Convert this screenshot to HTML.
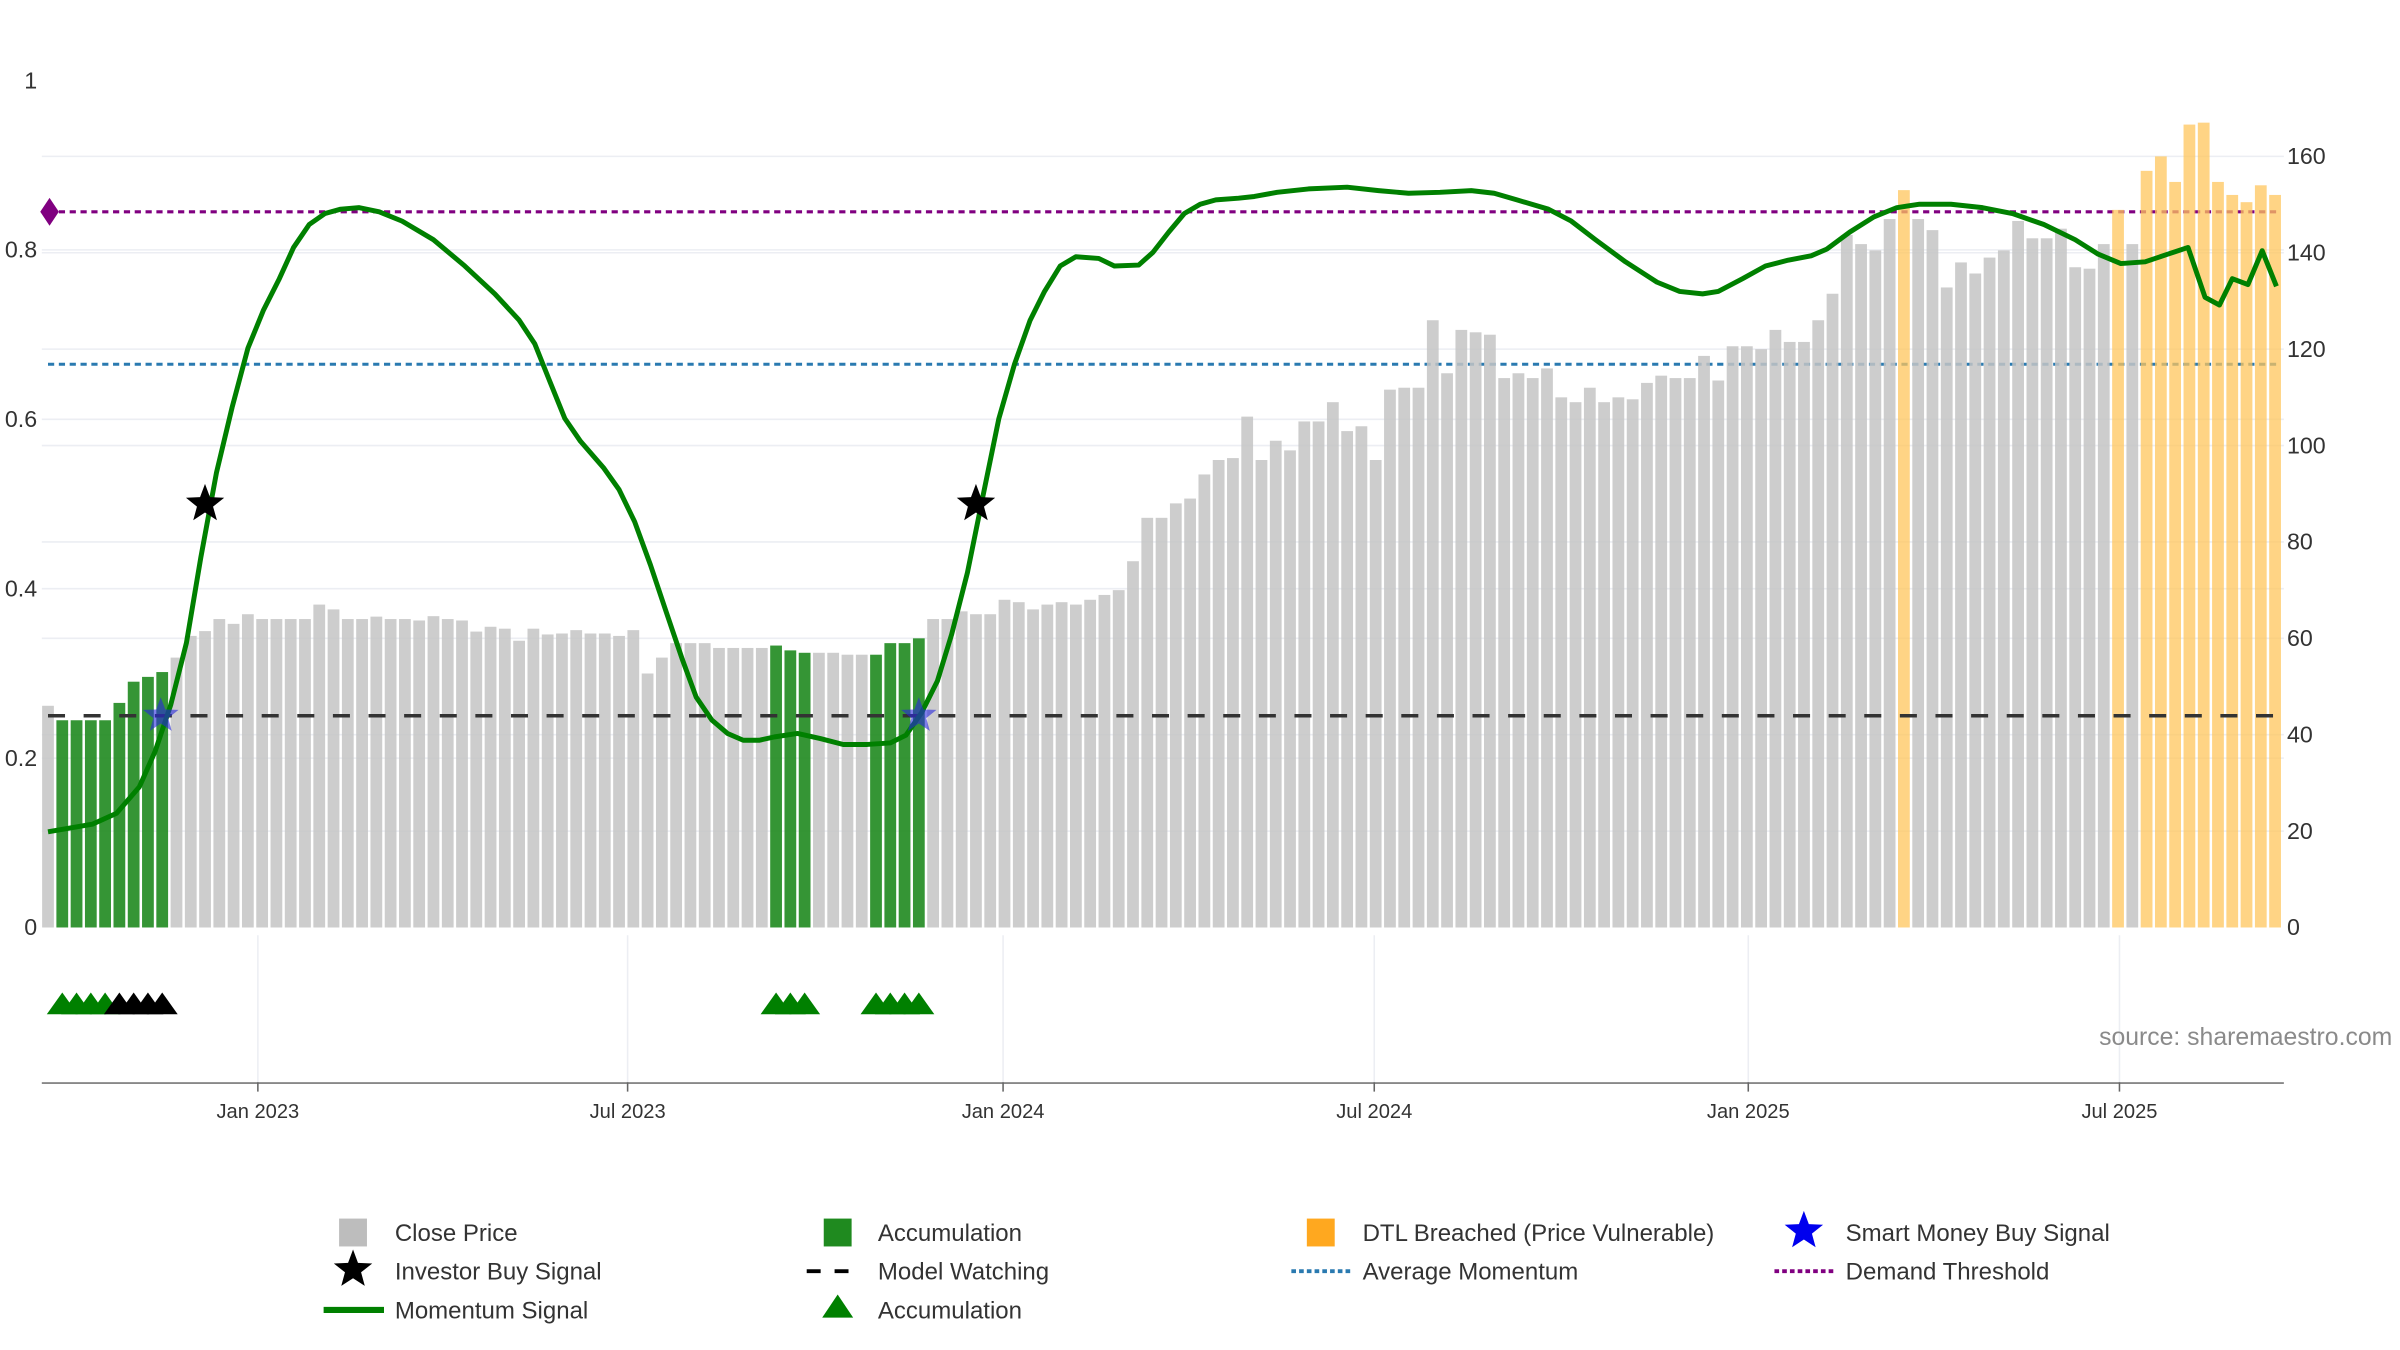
<!DOCTYPE html>
<html><head><meta charset="utf-8"><style>
html,body{margin:0;padding:0;background:#fff;}
svg{display:block;font-family:"Liberation Sans","DejaVu Sans",sans-serif;}
</style></head><body>
<svg id="chart" width="2400" height="1350" viewBox="0 0 1550 871.875" preserveAspectRatio="none" xmlns="http://www.w3.org/2000/svg">
<g id="grid"></g>
<g id="refs"></g>
<g id="bars"></g>
<g id="refs2"></g>
<g id="lines"></g>
<g id="marks"></g>
<g id="axes"></g>
<text x="1545" y="675" text-anchor="end" font-size="16" fill="#8a8a8a">source: sharemaestro.com</text>
<g id="legend"></g>
</svg>
<script>
const prices=[46,43,43,43,43,46.6,51,52,53,56,60.5,61.5,64,63,65,64,64,64,64,67,66,64,64,64.5,64,64,63.7,64.6,64,63.7,61.4,62.4,62,59.5,62,60.8,61,61.7,61,61,60.5,61.7,52.7,56,59,59,59,58,58,58,58,58.5,57.5,57,57,57,56.6,56.6,56.6,59,59,60,64,64,65.6,65,65,68,67.5,66,67,67.5,67,68,69,70,76,85,85,88,89,94,97,97.4,106,97,101,99,105,105,109,103,104,97,111.6,112,112,126,115,124,123.5,123,114,115,114,116,110,109,112,109,110,109.6,113,114.5,114,114,118.6,113.5,120.6,120.6,120,124,121.5,121.5,126,131.5,143.7,141.8,140.5,147,153,147,144.7,132.8,138,135.7,139,140.5,146.6,143,143,145,137,136.7,141.8,148.9,141.8,157,160,154.7,166.6,167,154.7,152,150.5,154,152];
const accumIdx=[1,2,3,4,5,6,7,8,51,52,53,58,59,60,61];
const dtlIdx=[130,145,147,148,149,150,151,152,153,154,155,156];
const momWeek=[0,3.1,4.8,6.4,7.5,8.6,9.7,10.7,11.8,12.9,14,15.1,16.2,17.2,18.3,19.4,20.5,21.8,23.2,24.8,27,29.2,31.3,33,34.1,35.1,36.2,37.3,38.9,40,41.1,42.2,43.3,44.4,45.4,46.5,47.6,48.7,49.8,50.9,52.5,54.1,55.7,57.4,59,60.1,61.2,62.3,63.3,64.4,65.5,66.6,67.7,68.8,69.8,70.9,72,73.6,74.7,76.4,77.4,78.5,79.6,80.7,81.8,83.4,84.5,86.1,88.3,91,93.2,95.3,97.5,99.7,101.3,102.9,105.1,106.7,108.4,110.5,112.7,114.3,115.9,117,118.7,120.3,121.9,123.5,124.6,126.2,127.9,129.5,131.1,133.3,135.5,137.6,139.8,142,143.6,145.2,146.9,148.5,149.9,151.1,152.1,153,154.1,155.1,156.1];
const momVal=[.113,.122,.135,.166,.208,.263,.336,.437,.537,.614,.684,.729,.766,.803,.830,.843,.848,.850,.845,.834,.812,.781,.748,.717,.689,.647,.601,.574,.543,.517,.479,.428,.373,.318,.272,.245,.229,.221,.221,.225,.229,.223,.216,.216,.218,.227,.254,.291,.346,.419,.510,.601,.665,.717,.751,.781,.792,.790,.781,.782,.797,.821,.843,.854,.859,.861,.863,.868,.872,.874,.870,.867,.868,.870,.867,.859,.848,.834,.812,.786,.762,.751,.748,.751,.766,.781,.788,.793,.801,.821,.839,.850,.854,.854,.850,.843,.830,.812,.795,.784,.786,.795,.803,.744,.735,.766,.759,.799,.757];
const demandThreshold=0.845, avgMomentum=0.665, modelWatching=0.25;
const investorWeeks=[11,65], investorVals=[0.5,0.5];
const smartWeeks=[7.9,61], smartVals=[0.25,0.25];
const triGreenWeeks=[1,2,3,4,51,52,53,58,59,60,61];
const triBlackWeeks=[5,6,7,8];
const leftTicks=[0,0.2,0.4,0.6,0.8,1];
const rightTicks=[0,20,40,60,80,100,120,140,160];
const dateLabels=["Jan 2023","Jul 2023","Jan 2024","Jul 2024","Jan 2025","Jul 2025"];
const dateWeeks=[14.7,40.6,66.9,92.9,119.1,145.1];

const NS="http://www.w3.org/2000/svg";
const X0=31,DX=9.22,PL=27,PR=1475,YB=599;
const xw=w=>X0+w*DX;
const yl=v=>YB-v*547;
const yr=v=>YB-v*(498/160);
function mk(tag,attrs,parent){const e=document.createElementNS(NS,tag);for(const k in attrs)e.setAttribute(k,attrs[k]);parent.appendChild(e);return e;}
const G=id=>document.getElementById(id);

rightTicks.forEach(t=>{if(t>0){const l=mk('line',{x1:PL,x2:PR,y1:yr(t),y2:yr(t),stroke:'#eceef3','stroke-width':1},G('grid'));

}});
leftTicks.forEach(t=>{if(t>0&&t<1){const l=mk('line',{x1:PL,x2:PR,y1:yl(t),y2:yl(t),stroke:'#eceef3','stroke-width':1},G('grid'));

}});
dateWeeks.forEach(w=>{const l=mk('line',{x1:xw(w),x2:xw(w),y1:604,y2:699,stroke:'#eceef3','stroke-width':1},G('grid'));

});

[[demandThreshold,'#800080','4,3',2,'demand-threshold-line','refs'],[avgMomentum,'#2a7ab0','4,3',2,'average-momentum-line','refs'],[modelWatching,'#333','11,12',2.2,'model-watching-line','refs2']].forEach(r=>{
const l=mk('line',{x1:31,x2:1470,y1:yl(r[0]),y2:yl(r[0]),stroke:r[1],'stroke-width':r[3],'stroke-dasharray':r[2]},G(r[5]));

});
const dm=mk('path',{d:`M26 ${yl(demandThreshold)} l6 -9 l6 9 l-6 9 z`,fill:'#800080'},G('refs'));



prices.forEach((p,i)=>{
let c='#c4c4c4',op=0.85;
if(accumIdx.includes(i)){c='#1f8a1f';op=0.9;}
if(dtlIdx.includes(i)){c='#ffc65c';op=0.75;}
const r=mk('rect',{x:xw(i)-3.8,width:7.6,y:yr(p),height:YB-yr(p),fill:c,'fill-opacity':op},G('bars'));

});

let d='';momWeek.forEach((w,i)=>{d+=(i?'L':'M')+xw(w).toFixed(1)+' '+yl(momVal[i]).toFixed(1)+' ';});
const ml=mk('path',{d:d,fill:'none',stroke:'#008000','stroke-width':3.2,'stroke-linejoin':'round'},G('lines'));



function star(cx,cy,R,fill,name){let pts=[];for(let k=0;k<10;k++){const a=-Math.PI/2+k*Math.PI/5,rr=k%2?R*0.42:R;pts.push((cx+rr*Math.cos(a)).toFixed(1)+','+(cy+rr*Math.sin(a)).toFixed(1));}
const s=mk('polygon',{points:pts.join(' '),fill:fill},G('marks'));

}
investorWeeks.forEach((w,i)=>star(xw(w),yl(investorVals[i]),13,'#000','investor-buy-signal'));
smartWeeks.forEach((w,i)=>star(xw(w),yl(smartVals[i]),12,'rgba(40,40,220,0.6)','smart-money-buy-signal'));
function tri(w,fill){const cx=xw(w),cy=648;const t=mk('polygon',{points:`${cx-10},${cy+7} ${cx},${cy-7} ${cx+10},${cy+7}`,fill:fill},G('marks'));

}
triGreenWeeks.forEach(w=>tri(w,'#008000'));
triBlackWeeks.forEach(w=>tri(w,'#000'));

leftTicks.forEach(t=>{const e=mk('text',{x:24,y:yl(t)+5,'text-anchor':'end','font-size':15,fill:'#333'},G('axes'));e.textContent=String(t);

});
rightTicks.forEach(t=>{const e=mk('text',{x:1477,y:yr(t)+5,'font-size':15,fill:'#333'},G('axes'));e.textContent=String(t);

});
const ax=mk('line',{x1:PL,x2:PR,y1:699.5,y2:699.5,stroke:'#888','stroke-width':1.2},G('axes'));


dateWeeks.forEach((w,i)=>{mk('line',{x1:xw(w),x2:xw(w),y1:699,y2:705,stroke:'#666','stroke-width':1},G('axes'));
const e=mk('text',{x:xw(w),y:722,'text-anchor':'middle','font-size':13,fill:'#333'},G('axes'));e.textContent=dateLabels[i];

});

const L=G('legend');
function ltext(x,y,s){const e=mk('text',{x:x,y:y+5.5,'font-size':15.5,fill:'#333'},L);e.textContent=s;

}
function lrect(x,y,c){const r=mk('rect',{x:x-9,y:y-9,width:18,height:18,fill:c},L);

}
lrect(228,796,'#bdbdbd');ltext(255,796,'Close Price');
lrect(541,796,'#1f8a1f');ltext(567,796,'Accumulation');
lrect(853,796,'#ffa81f');ltext(880,796,'DTL Breached (Price Vulnerable)');
(function(){let pts=[];const cx=1165,cy=795,R=13;for(let k=0;k<10;k++){const a=-Math.PI/2+k*Math.PI/5,rr=k%2?R*0.42:R;pts.push((cx+rr*Math.cos(a)).toFixed(1)+','+(cy+rr*Math.sin(a)).toFixed(1));}
const s=mk('polygon',{points:pts.join(' '),fill:'#0000ee'},L);
pts=[];const cx2=228,cy2=820;for(let k=0;k<10;k++){const a=-Math.PI/2+k*Math.PI/5,rr=k%2?R*0.42:R;pts.push((cx2+rr*Math.cos(a)).toFixed(1)+','+(cy2+rr*Math.sin(a)).toFixed(1));}
const s2=mk('polygon',{points:pts.join(' '),fill:'#000'},L);})();
ltext(1192,796,'Smart Money Buy Signal');
ltext(255,821,'Investor Buy Signal');
mk('line',{x1:521,x2:557,y1:821,y2:821,stroke:'#000','stroke-width':2.5,'stroke-dasharray':'9,9'},L);ltext(567,821,'Model Watching');
mk('line',{x1:834,x2:872,y1:821,y2:821,stroke:'#2a7ab0','stroke-width':2.5,'stroke-dasharray':'3,2'},L);ltext(880,821,'Average Momentum');
mk('line',{x1:1146,x2:1184,y1:821,y2:821,stroke:'#800080','stroke-width':2.5,'stroke-dasharray':'3,2'},L);ltext(1192,821,'Demand Threshold');
mk('line',{x1:209,x2:248,y1:846,y2:846,stroke:'#008000','stroke-width':4},L);ltext(255,846,'Momentum Signal');
mk('polygon',{points:'531,851 541,836 551,851',fill:'#008000'},L);ltext(567,846,'Accumulation');
</script>
</body></html>
